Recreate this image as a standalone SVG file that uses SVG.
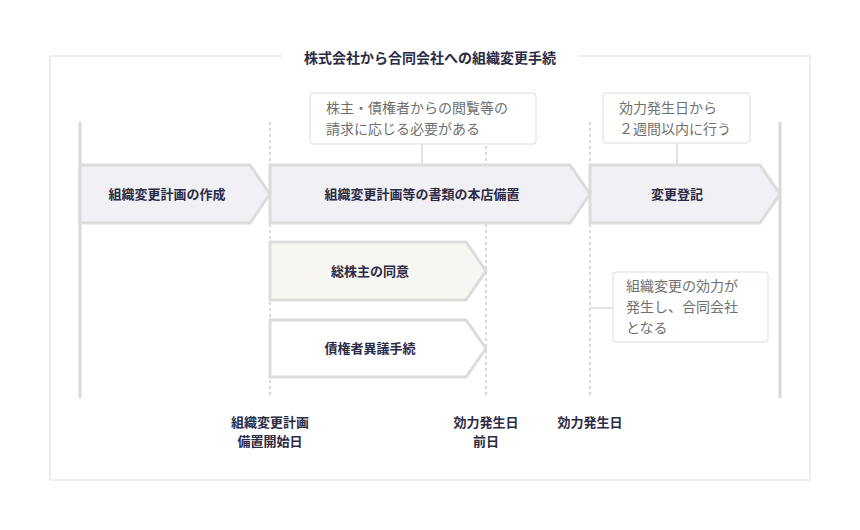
<svg xmlns="http://www.w3.org/2000/svg" width="860" height="530" viewBox="0 0 860 530">
<style>
text{font-family:"Noto Sans CJK JP","Noto Sans",sans-serif}
.lbl{font-size:13px;font-weight:bold;fill:#2b2b45;text-anchor:middle}
.note{font-size:14px;fill:#707070}
.arr{stroke:#dcdcdc;stroke-width:3}
.box{fill:#fff;stroke:#dcdcdc;stroke-width:1}
.vl{stroke:#d8d8d8;stroke-width:3}
.dl{stroke:#d8d8d8;stroke-width:2;stroke-dasharray:3 3}
.cl{stroke:#d8d8d8;stroke-width:1.5}
</style>
<rect width="860" height="530" fill="#fff"/>
<rect x="50" y="56" width="760" height="424" fill="none" stroke="#dcdcdc" stroke-width="1"/>
<rect x="282" y="46" width="296" height="22" fill="#fff"/>
<text x="430" y="63" class="lbl" style="font-size:14px">株式会社から合同会社への組織変更手続</text>
<g id="connectors">
<line class="vl" x1="80" y1="122" x2="80" y2="398"/>
<line class="vl" x1="780" y1="122" x2="780" y2="398"/>
<line class="dl" x1="270" y1="122" x2="270" y2="398"/>
<line class="dl" x1="486" y1="122" x2="486" y2="398"/>
<line class="dl" x1="590" y1="122" x2="590" y2="398"/>
<line class="cl" x1="422" y1="144" x2="422" y2="165"/>
<line class="cl" x1="677" y1="143" x2="677" y2="165"/>
<line class="cl" x1="590" y1="308" x2="613" y2="308"/>
</g>
<g id="n1"><path class="arr" fill="#f0f0f5" d="M80 165H250L270 194L250 223H80Z"/><text x="167" y="199" class="lbl">組織変更計画の作成</text></g>
<g id="n2"><path class="arr" fill="#f0f0f5" d="M270 165H570L590 194L570 223H270Z"/><text x="422" y="199" class="lbl">組織変更計画等の書類の本店備置</text></g>
<g id="n3"><path class="arr" fill="#f0f0f5" d="M590 165H760L780 194L760 223H590Z"/><text x="677" y="199" class="lbl">変更登記</text></g>
<g id="n4"><path class="arr" fill="#f7f6f2" d="M270 242H466L486 271L466 300H270Z"/><text x="370" y="276" class="lbl">総株主の同意</text></g>
<g id="n5"><path class="arr" fill="#fff" d="M270 320H466L486 348.5L466 377H270Z"/><text x="370" y="353" class="lbl">債権者異議手続</text></g>
<g id="c1"><rect class="box" x="310" y="93" width="226" height="51" rx="3"/><text class="note" x="326" y="113">株主・債権者からの閲覧等の</text><text class="note" x="326" y="134">請求に応じる必要がある</text></g>
<g id="c2"><rect class="box" x="603" y="93" width="147" height="50" rx="3"/><text class="note" x="619" y="113">効力発生日から</text><text class="note" x="619" y="134">２週間以内に行う</text></g>
<g id="c3"><rect class="box" x="613" y="272" width="155" height="70" rx="3"/><text class="note" x="626" y="291">組織変更の効力が</text><text class="note" x="626" y="312">発生し、合同会社</text><text class="note" x="626" y="333">となる</text></g>
<g id="d1"><text x="270" y="427" class="lbl">組織変更計画</text><text x="270" y="446" class="lbl">備置開始日</text></g>
<g id="d2"><text x="486" y="427" class="lbl">効力発生日</text><text x="486" y="446" class="lbl">前日</text></g>
<g id="d3"><text x="590" y="427" class="lbl">効力発生日</text></g>
</svg>
